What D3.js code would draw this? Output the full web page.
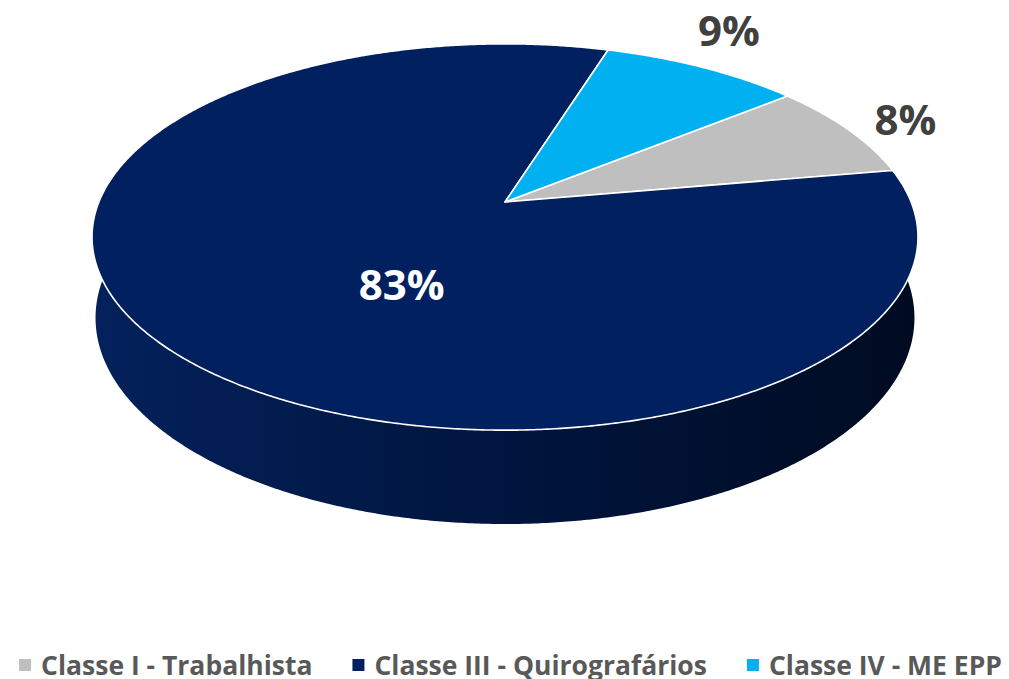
<!DOCTYPE html>
<html><head><meta charset="utf-8">
<script src="https://cdn.jsdelivr.net/npm/d3@7"></script>
<style>html,body{margin:0;padding:0;background:#fff;overflow:hidden} svg{display:block}</style>
</head><body>
<svg id="chart" width="1009" height="679"></svg>
<script>
// ---- data ----
const categories = ["Classe I - Trabalhista", "Classe III - Quirografários", "Classe IV - ME EPP"];
const values = [8.1, 82.6, 9.3];
const colors = ["#BFBFBF", "#002060", "#00B0F0"];

// ---- layout / 3D view ----
const W = 1009, H = 679;
const cx = 505, cy = 202;          // apex of the pie on screen
const focal = 1990, dist = 4.9;    // perspective camera (radius = 1)
const tilt = Math.asin(0.46);
const thickness = 0.2205;
const depthShrink = 0.4;
const firstSliceAngle = 50.8 * Math.PI / 180;
const sinT = Math.sin(tilt), cosT = Math.cos(tilt);
const labelNudge = [[-9, 4], [0, 0], [-9, -13]];

function proj(theta, r, hgt) {
  const X = r * Math.sin(theta), d = r * Math.cos(theta);
  const v = d * sinT + hgt * cosT;
  const z = dist + d * cosT - hgt * sinT * depthShrink;
  return [cx + focal * X / z, cy - focal * v / z];
}
function arcPts(a0, a1, r, hgt) {
  const n = Math.max(2, Math.ceil(Math.abs(a1 - a0) / (0.4 * Math.PI / 180)));
  const s = d3.scaleLinear().domain([0, n]).range([a0, a1]);
  return d3.range(n + 1).map(i => proj(s(i), r, hgt));
}

const svg = d3.select("#chart");
const defs = svg.append("defs");
const line = d3.line();

const data = categories.map((c, i) => ({ name: c, value: values[i], color: colors[i] }));
const pie = d3.pie().sort(null).value(d => d.value)
  .startAngle(firstSliceAngle).endAngle(firstSliceAngle + 2 * Math.PI);
const arcs = pie(data);
const total = d3.sum(values);

// horizontal extent for side gradient
const rim = arcPts(0, 2 * Math.PI, 1, 0);
const xExt = d3.extent(rim, p => p[0]);

arcs.forEach((a, i) => {
  const g = defs.append("linearGradient").attr("id", "side" + i)
    .attr("gradientUnits", "userSpaceOnUse")
    .attr("x1", xExt[0]).attr("x2", xExt[1]).attr("y1", 0).attr("y2", 0);
  const mix = d3.interpolateRgb(a.data.color, "#000");
  g.append("stop").attr("offset", 0).attr("stop-color", d3.interpolateRgb(mix(0.1), "#3050a0")(0.08));
  g.append("stop").attr("offset", 0.5).attr("stop-color", mix(0.35));
  g.append("stop").attr("offset", 1).attr("stop-color", mix(0.66));
});

// side walls: small (back) slices first, the large front slice last
const order = d3.range(arcs.length).sort((i, j) =>
  (arcs[i].endAngle - arcs[i].startAngle) - (arcs[j].endAngle - arcs[j].startAngle));
const walls = svg.append("g");
order.forEach(i => {
  const a = arcs[i];
  const pts = arcPts(a.startAngle, a.endAngle, 1, 0)
    .concat(arcPts(a.endAngle, a.startAngle, 1, -thickness));
  walls.append("path").attr("d", line(pts) + "Z")
    .attr("fill", `url(#side${i})`).attr("fill-rule", "nonzero");
});

// top faces
const tops = svg.append("g");
arcs.forEach(a => {
  const pts = [proj(0, 0, 0)].concat(arcPts(a.startAngle, a.endAngle, 1, 0));
  tops.append("path").attr("d", line(pts) + "Z")
    .attr("fill", a.data.color)
    .attr("stroke", "#fff").attr("stroke-width", 1.6).attr("stroke-linejoin", "round");
});

// data labels
const fmt = d3.format(".0%");
const labels = svg.append("g")
  .attr("font-family", "'Open Sans', 'DejaVu Sans', sans-serif")
  .attr("font-weight", 700).attr("font-size", 42).attr("text-anchor", "middle");
arcs.forEach((a, i) => {
  const share = a.value / total;
  const mid = (a.startAngle + a.endAngle) / 2;
  const inside = share > 0.5;
  const p = inside ? proj(mid - 18.8 * Math.PI / 180, 0.473, 0) : proj(mid, 1.21, 0);
  labels.append("text")
    .attr("x", p[0] + labelNudge[i][0]).attr("y", p[1] + labelNudge[i][1]).attr("dy", "0.36em")
    .attr("fill", inside ? "#ffffff" : "#404040")
    .text(fmt(share));
});

// legend
const legend = svg.append("g")
  .attr("font-family", "'Open Sans', 'DejaVu Sans', sans-serif")
  .attr("font-weight", 700).attr("font-size", 26.5).attr("fill", "#595959");
const sw = 12, gapTxt = 10, gapItem = 40, baseY = 675;
const items = data.map(d => {
  const gi = legend.append("g");
  gi.append("rect").attr("width", sw).attr("height", sw).attr("y", baseY - 16).attr("fill", d.color);
  const t = gi.append("text").attr("x", sw + gapTxt).attr("y", baseY).text(d.name);
  return { g: gi, w: sw + gapTxt + t.node().getComputedTextLength() };
});
const legW = d3.sum(items, d => d.w) + gapItem * (items.length - 1);
let x0 = (W - legW) / 2 + 6;
items.forEach(it => { it.g.attr("transform", `translate(${x0},0)`); x0 += it.w + gapItem; });
</script>
</body></html>
